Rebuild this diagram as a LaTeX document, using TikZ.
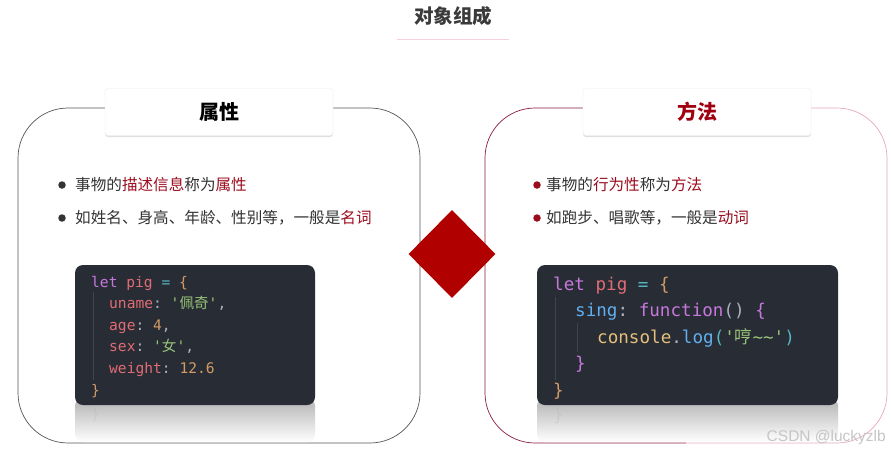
\documentclass[tikz,border=0pt]{standalone}
\usepackage{fontspec}
\setmonofont{DejaVu Sans Mono}
\newfontfamily\cjk{Noto Sans CJK SC}
\newfontfamily\wmfont{Liberation Sans}
\usetikzlibrary{shapes.geometric,shadows}
\definecolor{titlegray}{HTML}{3A3A3A}
\definecolor{bodytext}{HTML}{333333}
\definecolor{hl}{HTML}{9B0D1E}
\definecolor{methodred}{HTML}{A00010}
\definecolor{diamondred}{HTML}{B00000}
\definecolor{leftframe}{HTML}{555555}
\definecolor{rframedark}{HTML}{8C1C3C}
\definecolor{rframelight}{HTML}{E8A8BC}
\definecolor{pinkline}{HTML}{F8D0DC}
\definecolor{codebg}{HTML}{282C34}
\definecolor{guide}{HTML}{3E4451}
\definecolor{kw}{HTML}{C678DD}
\definecolor{var}{HTML}{E06C75}
\definecolor{op}{HTML}{56B6C2}
\definecolor{br}{HTML}{D19A66}
\definecolor{str}{HTML}{98C379}
\definecolor{num}{HTML}{D19A66}
\definecolor{punc}{HTML}{ABB2BF}
\definecolor{fn}{HTML}{61AFEF}
\definecolor{con}{HTML}{E5C07B}
\begin{document}
\begin{tikzpicture}[x=1pt,y=-1pt,
  labelbox/.style={fill=white, draw=gray!15, rounded corners=3pt, minimum width=228pt, minimum height=47pt,
    drop shadow={opacity=0.25, shadow xshift=0pt, shadow yshift=-1.5pt},
    font=\cjk\bfseries\fontsize{20}{22}\selectfont},
  bullettext/.style={anchor=west, inner sep=0pt, text=bodytext, font=\cjk\fontsize{15.6}{18}\selectfont},
  dot/.style={circle, inner sep=0pt, minimum size=7.5pt},
  codeL/.style={anchor=base west, inner sep=0pt, font=\ttfamily\fontsize{14.6}{17}\selectfont},
  codeR/.style={anchor=base west, inner sep=0pt, font=\ttfamily\fontsize{17.6}{20}\selectfont},
  codebox/.style={fill=codebg, rounded corners=8pt},
  reflect/.style={top color=gray!60, bottom color=white, rounded corners=8pt}
]
\useasboundingbox (0,0) rectangle (891,451);
\fill[white] (0,0) rectangle (891,451);

% title
\node[font=\cjk\bfseries\fontsize{19.5}{22}\selectfont, text=titlegray] (title) at (453,16) {对象组成};
\coordinate (ulA) at (397,39);
\coordinate (ulB) at (509,39);
\draw[pinkline, line width=1pt] (ulA) -- (ulB);

% frames
\draw[leftframe, line width=0.7pt, rounded corners=50pt] (18,108) rectangle (420,443);
\draw[rframedark, line width=0.7pt, rounded corners=50pt] (686,108) -- (485,108) -- (485,443) -- (686,443);
\draw[rframelight, line width=0.7pt, rounded corners=50pt] (686,108) -- (887,108) -- (887,443) -- (686,443);

% label boxes
\node[labelbox, text=black] (attr) at (219,112) {属性};
\node[labelbox, text=methodred] (meth) at (697,112) {方法};

% diamond
\node[diamond, fill=diamondred, minimum width=87pt, minimum height=88pt, inner sep=0pt] (dia) at (452,254) {};

% left bullets
\node[dot, fill=bodytext] (lb1) at (62,185) {};
\node[bullettext] (lt1) at (75,185) {事物的\textcolor{hl}{描述信息}称为\textcolor{hl}{属性}};
\node[dot, fill=bodytext] (lb2) at (62,218) {};
\node[bullettext] (lt2) at (75,218) {如姓名、身高、年龄、性别等，一般是\textcolor{hl}{名词}};

% right bullets
\node[dot, fill=hl] (rb1) at (537,185) {};
\node[bullettext] (rt1) at (546,185) {事物的\textcolor{hl}{行为性}称为\textcolor{hl}{方法}};
\node[dot, fill=hl] (rb2) at (537,218) {};
\node[bullettext] (rt2) at (546,218) {如跑步、唱歌等，一般是\textcolor{hl}{动词}};

% left code box
\shade[reflect] (75,398) rectangle (315,442);
\fill[codebox] (75,265) rectangle (315,405);
\node[codeL, text=punc, opacity=0.25, yscale=-1] (lref) at (91,410) {\}};
\draw[guide, line width=0.8pt] (93,292) -- (93,380);
\node[codeL] (l1) at (91,287) {\textcolor{kw}{let} \textcolor{var}{pig} \textcolor{op}{=} \textcolor{br}{\{}};
\node[codeL] (l2) at (109,308.6) {\textcolor{var}{uname}\textcolor{punc}{:} \textcolor{str}{'{\cjk 佩奇}'}\textcolor{punc}{,}};
\node[codeL] (l3) at (109,330.2) {\textcolor{var}{age}\textcolor{punc}{:} \textcolor{num}{4}\textcolor{punc}{,}};
\node[codeL] (l4) at (109,351.8) {\textcolor{var}{sex}\textcolor{punc}{:} \textcolor{str}{'{\cjk 女}'}\textcolor{punc}{,}};
\node[codeL] (l5) at (109,373.4) {\textcolor{var}{weight}\textcolor{punc}{:} \textcolor{num}{12.6}};
\node[codeL] (l6) at (91,395) {\textcolor{br}{\}}};

% right code box
\shade[reflect] (537,398) rectangle (838,442);
\fill[codebox] (537,265) rectangle (838,405);
\node[codeR, text=punc, opacity=0.25, yscale=-1] (rref) at (553,410) {\}};
\draw[guide, line width=0.8pt] (555,297) -- (555,380);
\draw[guide, line width=0.8pt] (577,323) -- (577,352);
\node[codeR] (r1) at (553,290) {\textcolor{kw}{let} \textcolor{var}{pig} \textcolor{op}{=} \textcolor{br}{\{}};
\node[codeR] (r2) at (575,316) {\textcolor{fn}{sing}\textcolor{punc}{:} \textcolor{kw}{function}\textcolor{punc}{()} \textcolor{kw}{\{}};
\node[codeR] (r3) at (597,343) {\textcolor{con}{console}\textcolor{punc}{.}\textcolor{fn}{log}\textcolor{op}{(}\textcolor{str}{'{\cjk 哼}\string~\string~'}\textcolor{op}{)}};
\node[codeR] (r4) at (575,369) {\textcolor{kw}{\}}};
\node[codeR] (r5) at (553,396) {\textcolor{br}{\}}};

% watermark
\node[anchor=east, inner sep=0pt, font=\wmfont\fontsize{15.5}{17}\selectfont, text=gray!45] (wm) at (886,437) {CSDN @luckyzlb};
\end{tikzpicture}
\end{document}
